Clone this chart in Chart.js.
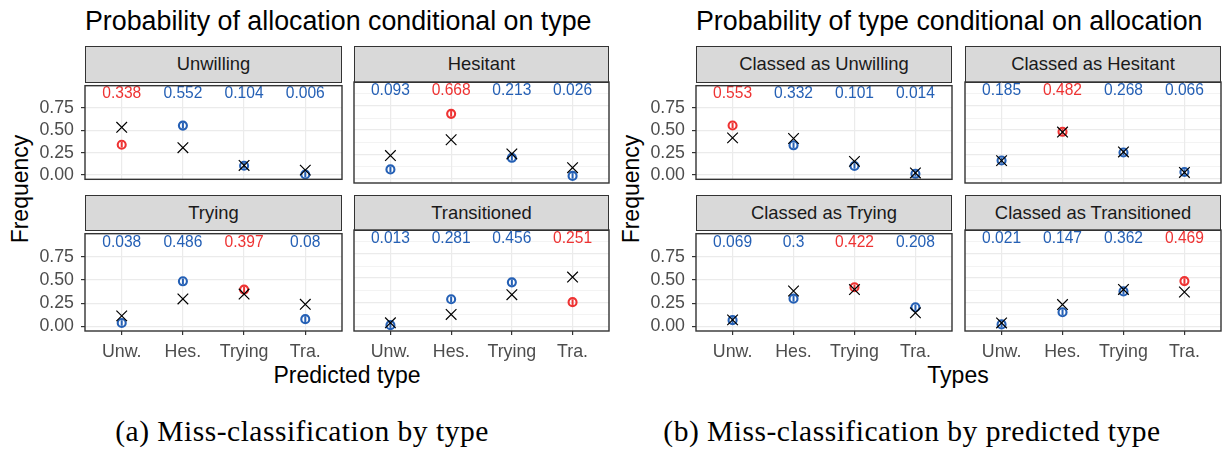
<!DOCTYPE html>
<html><head><meta charset="utf-8">
<script src="https://cdn.jsdelivr.net/npm/chart.js@4.4.1/dist/chart.umd.min.js"></script>
<style>
body{margin:0;background:#fff;width:1224px;height:450px;overflow:hidden;position:relative;font-family:"Liberation Sans",Arial,sans-serif;}
.strip{position:absolute;box-sizing:border-box;border:1.4px solid #333;background:#D9D9D9;color:#1A1A1A;font-size:18.4px;display:flex;align-items:center;justify-content:center;line-height:1;white-space:nowrap;}
.title{position:absolute;font-size:26.8px;color:#000;line-height:1;white-space:nowrap;}
.axt{position:absolute;font-size:23px;color:#000;line-height:1;white-space:nowrap;transform:translateX(-50%);}
.axy{position:absolute;font-size:23px;color:#000;line-height:1;white-space:nowrap;transform:translate(-50%,-50%) rotate(-90deg);}
.cap{position:absolute;font-family:"Liberation Serif","Times New Roman",serif;font-size:29.5px;letter-spacing:0.5px;color:#000;line-height:1;white-space:nowrap;transform:translateX(-50%);}
canvas{position:absolute;}
</style></head><body>
<div class="title" style="left:85px;top:8px;">Probability of allocation conditional on type</div>
<div class="title" style="left:696px;top:8px;">Probability of type conditional on allocation</div>
<div class="axy" style="left:20px;top:189px;">Frequency</div>
<div class="axy" style="left:631px;top:189px;">Frequency</div>
<div class="axt" style="left:347px;top:364px;">Predicted type</div>
<div class="axt" style="left:958px;top:364px;">Types</div>
<div class="cap" style="left:302px;top:417px;">(a) Miss-classification by type</div>
<div class="cap" style="left:912px;top:417px;">(b) Miss-classification by predicted type</div>
<script>
// ---------- data ----------
const categories = ['Unw.', 'Hes.', 'Trying', 'Tra.'];
const yTickValues = [0, 0.125, 0.25, 0.375, 0.5, 0.625, 0.75, 0.875];
const yMajorTicks = [0, 0.25, 0.5, 0.75];
const yTickLabels = ['0.00', '0.25', '0.50', '0.75'];

const typeNames = ['Unwilling', 'Hesitant', 'Trying', 'Transitioned'];
const classNames = ['Classed as Unwilling', 'Classed as Hesitant', 'Classed as Trying', 'Classed as Transitioned'];

// (a) allocation conditional on type: circles and crosses
const allocUnwilling      = [0.338, 0.552, 0.104, 0.006];
const allocHesitant       = [0.093, 0.668, 0.213, 0.026];
const allocTrying         = [0.038, 0.486, 0.397, 0.08];
const allocTransitioned   = [0.013, 0.281, 0.456, 0.251];
const allocUnwillingX     = [0.533, 0.305, 0.107, 0.055];
const allocHesitantX      = [0.236, 0.400, 0.253, 0.111];
const allocTryingX        = [0.115, 0.297, 0.349, 0.239];
const allocTransitionedX  = [0.037, 0.124, 0.328, 0.511];

// (b) type conditional on allocation
const classUnwilling      = [0.553, 0.332, 0.101, 0.014];
const classHesitant       = [0.185, 0.482, 0.268, 0.066];
const classTrying         = [0.069, 0.3, 0.422, 0.208];
const classTransitioned   = [0.021, 0.147, 0.362, 0.469];
const classUnwillingX     = [0.415, 0.408, 0.153, 0.024];
const classHesitantX      = [0.184, 0.480, 0.274, 0.062];
const classTryingX        = [0.072, 0.382, 0.398, 0.148];
const classTransitionedX  = [0.036, 0.226, 0.382, 0.356];

const LABEL_Y = 0.905;
const RED = '#EE3333', BLUE = '#2560B5';
const FAMILY = '"Liberation Sans", Arial, sans-serif';

// ---------- layout ----------
const panelX = {a: [85, 354], b: [696, 965]};
const panelW = {a: [257, 255], b: [256, 256]};
const stripTop = [46, 195], plotTop = [82, 230], plotH = 101;
const padL = 70, padB = 45, pad = 14;

const framePlugin = {
  id: 'frame',
  afterDraw(chart) {
    const a = chart.chartArea, ctx = chart.ctx;
    ctx.save();
    ctx.strokeStyle = '#333';
    ctx.lineWidth = 1.4;
    ctx.strokeRect(a.left, a.top, a.right - a.left, a.bottom - a.top);
    ctx.restore();
  }
};
const valueLabels = {
  id: 'valueLabels',
  afterDatasetsDraw(chart, args, opts) {
    const ctx = chart.ctx;
    ctx.save();
    ctx.font = '15.6px ' + FAMILY;
    ctx.textAlign = 'center';
    ctx.textBaseline = 'middle';
    opts.values.forEach((v, i) => {
      ctx.fillStyle = opts.colors[i];
      ctx.fillText(String(v), chart.scales.x.getPixelForValue(i), chart.scales.y.getPixelForValue(LABEL_Y));
    });
    ctx.restore();
  }
};
const isMajor = v => yMajorTicks.some(m => Math.abs(m - v) < 1e-9);

function makePanel(g, r, c, name, circ, cross, red) {
  const px = panelX[g][c], pw = panelW[g][c], pt = plotTop[r];
  const left = c === 0 ? padL : pad;
  const bottom = r === 1 ? padB : pad;
  const strip = document.createElement('div');
  strip.className = 'strip';
  strip.style.left = px + 'px';
  strip.style.top = stripTop[r] + 'px';
  strip.style.width = pw + 'px';
  strip.style.height = (pt - stripTop[r] + 1) + 'px';
  strip.textContent = name;
  document.body.appendChild(strip);

  const cv = document.createElement('canvas');
  cv.width = left + pw + pad;
  cv.height = pad + plotH + bottom;
  cv.style.left = (px - left) + 'px';
  cv.style.top = (pt - pad) + 'px';
  document.body.appendChild(cv);

  const cols = circ.map((v, i) => i === red ? RED : BLUE);
  const pts = arr => arr.map((v, i) => ({x: i, y: v}));
  new Chart(cv, {
    type: 'scatter',
    data: {datasets: [
      {data: pts(cross), pointStyle: 'crossRot', radius: 7.5, borderColor: '#000', backgroundColor: '#000', borderWidth: 1.2},
      {data: pts(circ), pointStyle: 'line', rotation: 90, radius: 2.8, borderColor: cols, borderWidth: 2},
      {data: pts(circ), pointStyle: 'circle', radius: 4, borderColor: cols, backgroundColor: 'rgba(0,0,0,0)', borderWidth: 2.1}
    ]},
    options: {
      responsive: false, animation: false, events: [],
      layout: {autoPadding: false, padding: {top: pad, right: pad, left: 0, bottom: 0}},
      plugins: {legend: {display: false}, tooltip: {enabled: false},
                valueLabels: {values: circ, colors: cols}},
      scales: {
        x: {
          type: 'linear', min: -0.6, max: 3.6,
          afterBuildTicks: s => { s.ticks = categories.map((_, i) => ({value: i})); },
          afterFit: s => { s.height = bottom; },
          ticks: {display: r === 1, callback: v => categories[v], color: '#4D4D4D',
                  font: {size: 17.8, family: FAMILY}, padding: 6, maxRotation: 0, autoSkip: false},
          grid: {color: '#EBEBEB', lineWidth: 1.2, drawTicks: r === 1, tickLength: 4, tickColor: '#333', tickWidth: 1.2},
          border: {display: false}
        },
        y: {
          type: 'linear', min: -0.0475, max: 0.9975,
          afterBuildTicks: s => { s.ticks = yTickValues.map(v => ({value: v})); },
          afterFit: s => { s.width = left; },
          ticks: {display: c === 0, color: '#4D4D4D', font: {size: 17.8, family: FAMILY}, padding: 7,
                  callback: v => { const k = yMajorTicks.findIndex(m => Math.abs(m - v) < 1e-9); return k >= 0 ? yTickLabels[k] : ''; }},
          grid: {color: '#EBEBEB', lineWidth: ctx => isMajor(ctx.tick.value) ? 1.2 : 0.6,
                 drawTicks: c === 0, tickLength: 4,
                 tickColor: ctx => isMajor(ctx.tick.value) ? '#333' : 'rgba(0,0,0,0)', tickWidth: 1.2},
          border: {display: false}
        }
      }
    },
    plugins: [framePlugin, valueLabels]
  });
}

makePanel('a', 0, 0, typeNames[0], allocUnwilling, allocUnwillingX, 0);
makePanel('a', 0, 1, typeNames[1], allocHesitant, allocHesitantX, 1);
makePanel('a', 1, 0, typeNames[2], allocTrying, allocTryingX, 2);
makePanel('a', 1, 1, typeNames[3], allocTransitioned, allocTransitionedX, 3);
makePanel('b', 0, 0, classNames[0], classUnwilling, classUnwillingX, 0);
makePanel('b', 0, 1, classNames[1], classHesitant, classHesitantX, 1);
makePanel('b', 1, 0, classNames[2], classTrying, classTryingX, 2);
makePanel('b', 1, 1, classNames[3], classTransitioned, classTransitionedX, 3);
</script>
</body></html>
